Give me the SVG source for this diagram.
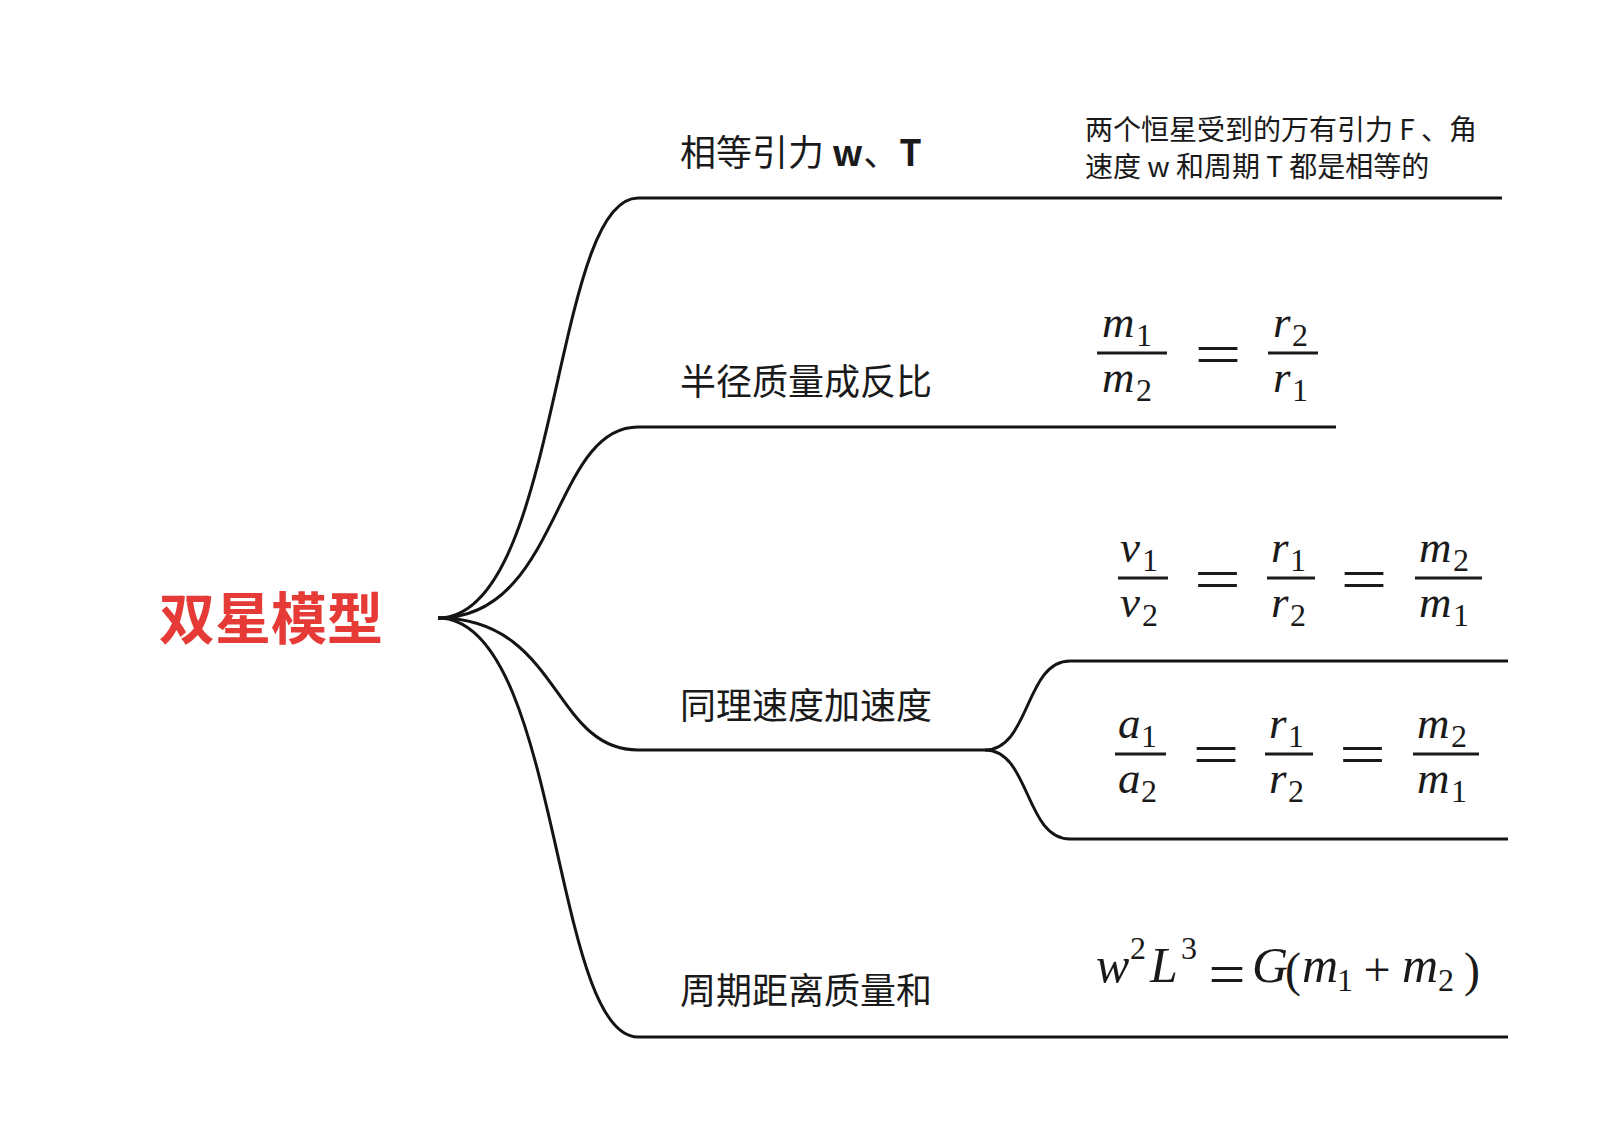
<svg xmlns="http://www.w3.org/2000/svg" width="1608" height="1140" viewBox="0 0 1608 1140">
<style>
.cn{fill:none;stroke:#141414;stroke-width:3;stroke-linecap:butt}
.lbl{font-family:"Noto Sans CJK SC","Noto Sans",sans-serif;font-size:36px;fill:#1a1a1a}
.note{font-family:"Noto Sans CJK SC","Noto Sans",sans-serif;font-size:28px;fill:#1a1a1a}
.title{font-family:"Noto Sans CJK SC","Noto Sans",sans-serif;font-size:56px;font-weight:700;fill:#e53a35}
.mi{font-family:"Liberation Serif","DejaVu Serif",serif;font-style:italic;font-size:45px;fill:#1a1a1a}
.mi4{font-family:"Liberation Serif","DejaVu Serif",serif;font-style:italic;font-size:50px;fill:#1a1a1a}
.mn{font-family:"Liberation Serif","DejaVu Serif",serif;font-size:32px;fill:#1a1a1a}
.mo{font-family:"Liberation Serif","DejaVu Serif",serif;font-size:48px;fill:#1a1a1a}
.eq{font-family:"Liberation Serif","DejaVu Serif",serif;font-size:60px;fill:#1a1a1a}
.bar{fill:#1a1a1a}
</style>
<rect width="1608" height="1140" fill="#ffffff"/>
<g id="connectors">
<path class="cn" d="M438 618 C560 618 552 198 638 198 H1502"/>
<path class="cn" d="M438 618 C560 618 552 427 638 427 H1336"/>
<path class="cn" d="M438 618 C560 618 552 750 638 750 H985"/>
<path class="cn" d="M985 750 C1030 750 1025 661 1070 661 H1508"/>
<path class="cn" d="M985 750 C1030 750 1025 839 1070 839 H1508"/>
<path class="cn" d="M438 618 C560 618 552 1037 638 1037 H1508"/>
</g>
<g id="root">
<text class="title" x="159" y="639">双星模型</text>
</g>
<g id="node-equal">
<text class="lbl" x="680" y="166">相等引力 <tspan font-weight="700">w</tspan>、<tspan font-weight="700">T</tspan></text>
</g>
<g id="note-equal">
<text class="note" x="1085" y="140">两个恒星受到的万有引力 F 、角</text>
<text class="note" x="1085" y="177">速度 w 和周期 T 都是相等的</text>
</g>
<g id="node-radius">
<text class="lbl" x="680" y="395">半径质量成反比</text>
</g>
<g id="formula-radius">
<text class="mi" x="1102" y="337">m</text><text class="mn" x="1136" y="346">1</text>
<rect class="bar" x="1097" y="351.5" width="70" height="3"/>
<text class="mi" x="1102" y="392">m</text><text class="mn" x="1136" y="401">2</text>
<text class="eq" x="1218" y="374" text-anchor="middle" textLength="47" lengthAdjust="spacingAndGlyphs">=</text>
<text class="mi" x="1273" y="337">r</text><text class="mn" x="1292" y="346">2</text>
<rect class="bar" x="1268" y="351.5" width="50" height="3"/>
<text class="mi" x="1273" y="392">r</text><text class="mn" x="1292" y="401">1</text>
</g>
<g id="node-speed">
<text class="lbl" x="680" y="719">同理速度加速度</text>
</g>
<g id="formula-velocity">
<text class="mi" x="1120" y="562">v</text><text class="mn" x="1142" y="571">1</text>
<rect class="bar" x="1118" y="576.5" width="50" height="3"/>
<text class="mi" x="1120" y="617">v</text><text class="mn" x="1142" y="626">2</text>
<text class="eq" x="1217.5" y="599" text-anchor="middle" textLength="47" lengthAdjust="spacingAndGlyphs">=</text>
<text class="mi" x="1271" y="562">r</text><text class="mn" x="1290" y="571">1</text>
<rect class="bar" x="1267" y="576.5" width="48" height="3"/>
<text class="mi" x="1271" y="617">r</text><text class="mn" x="1290" y="626">2</text>
<text class="eq" x="1364" y="599" text-anchor="middle" textLength="47" lengthAdjust="spacingAndGlyphs">=</text>
<text class="mi" x="1419" y="562">m</text><text class="mn" x="1453" y="571">2</text>
<rect class="bar" x="1415" y="576.5" width="67" height="3"/>
<text class="mi" x="1419" y="617">m</text><text class="mn" x="1453" y="626">1</text>
</g>
<g id="formula-acceleration">
<text class="mi" x="1118" y="738">a</text><text class="mn" x="1141" y="747">1</text>
<rect class="bar" x="1115" y="752.5" width="51" height="3"/>
<text class="mi" x="1118" y="793">a</text><text class="mn" x="1141" y="802">2</text>
<text class="eq" x="1216" y="774" text-anchor="middle" textLength="47" lengthAdjust="spacingAndGlyphs">=</text>
<text class="mi" x="1269" y="738">r</text><text class="mn" x="1288" y="747">1</text>
<rect class="bar" x="1265" y="752.5" width="48" height="3"/>
<text class="mi" x="1269" y="793">r</text><text class="mn" x="1288" y="802">2</text>
<text class="eq" x="1362.5" y="774" text-anchor="middle" textLength="47" lengthAdjust="spacingAndGlyphs">=</text>
<text class="mi" x="1417" y="738">m</text><text class="mn" x="1451" y="747">2</text>
<rect class="bar" x="1413" y="752.5" width="66" height="3"/>
<text class="mi" x="1417" y="793">m</text><text class="mn" x="1451" y="802">1</text>
</g>
<g id="node-period">
<text class="lbl" x="680" y="1004">周期距离质量和</text>
</g>
<g id="formula-period">
<text class="mi4" x="1096" y="982">w</text><text class="mn" x="1130" y="959">2</text>
<text class="mi4" x="1150" y="982">L</text><text class="mn" x="1181" y="959">3</text>
<text class="eq" x="1227" y="994" text-anchor="middle" textLength="37" lengthAdjust="spacingAndGlyphs" font-size="54">=</text>
<text class="mi4" x="1252" y="982">G</text>
<text class="mo" x="1285" y="986">(</text>
<text class="mi4" x="1302" y="982">m</text><text class="mn" x="1337" y="991">1</text>
<text class="mo" x="1377" y="986" text-anchor="middle">+</text>
<text class="mi4" x="1402" y="982">m</text><text class="mn" x="1438" y="991">2</text>
<text class="mo" x="1464" y="986">)</text>
</g>
</svg>
